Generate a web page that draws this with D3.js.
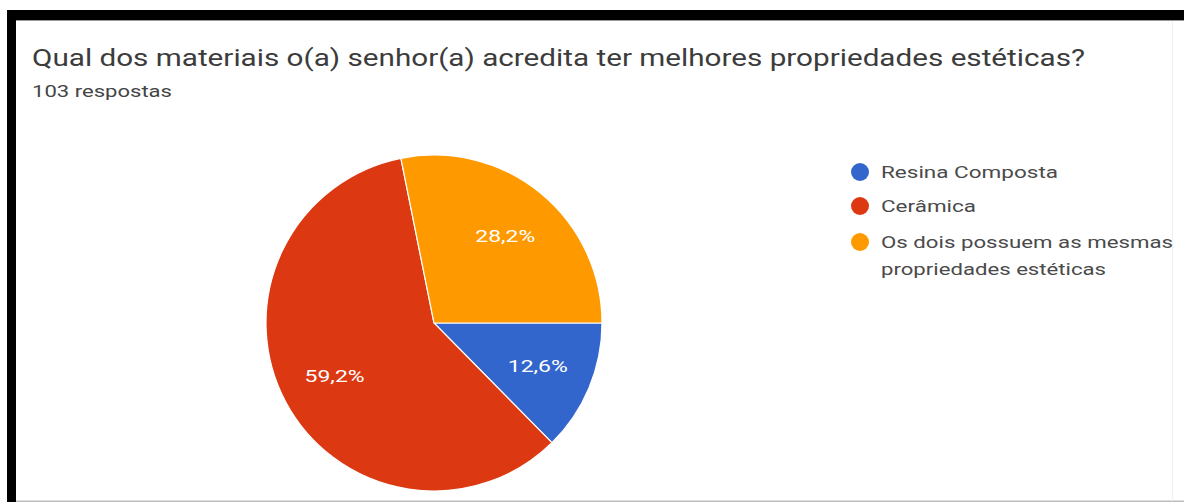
<!DOCTYPE html>
<html>
<head>
<meta charset="utf-8">
<script src="https://cdn.jsdelivr.net/npm/d3@7"></script>
<style>
  html, body { margin: 0; padding: 0; background: #fff; }
  svg { display: block; }
</style>
</head>
<body>
<script>
// Survey answers
const categories = ["Resina Composta", "Cerâmica", "Os dois possuem as mesmas propriedades estéticas"];
const legendLines = [["Resina Composta"], ["Cerâmica"], ["Os dois possuem as mesmas", "propriedades estéticas"]];
const responses = [13, 61, 29];
const colors = ["#3366cc", "#dc3912", "#ff9900"];
const titleText = "Qual dos materiais o(a) senhor(a) acredita ter melhores propriedades estéticas?";
const subtitleText = "103 respostas";

const W = 1184, H = 502;
const svg = d3.select("body").append("svg").attr("width", W).attr("height", H);
const FONT = "Roboto, sans-serif";

// card frame
svg.append("rect").attr("x", 0).attr("y", 0).attr("width", W).attr("height", H).attr("fill", "#fff");
svg.append("rect").attr("x", 7).attr("y", 10).attr("width", W - 7).attr("height", 10).attr("fill", "#000");
svg.append("rect").attr("x", 7).attr("y", 10).attr("width", 9).attr("height", H - 10).attr("fill", "#000");
svg.append("rect").attr("x", 16).attr("y", 20).attr("width", W - 16).attr("height", 1).attr("fill", "#9a9a9a");
svg.append("rect").attr("x", 16).attr("y", H - 1.5).attr("width", W - 16).attr("height", 1.5).attr("fill", "#bdbdbd");
svg.append("rect").attr("x", 1172).attr("y", 21).attr("width", 1).attr("height", H - 22).attr("fill", "#f0f0f0");

// header (text is set wide, so each line is fitted to its width)
svg.append("text").attr("x", 32).attr("y", 66)
  .attr("font-family", FONT).attr("font-size", 24)
  .attr("textLength", 1053).attr("lengthAdjust", "spacingAndGlyphs")
  .attr("fill", "#3c3c3c").text(titleText);
svg.append("text").attr("x", 32).attr("y", 97)
  .attr("font-family", FONT).attr("font-size", 17)
  .attr("textLength", 140).attr("lengthAdjust", "spacingAndGlyphs")
  .attr("fill", "#444").text(subtitleText);

// pie
const total = d3.sum(responses);
const cx = 434, cy = 323, r = 168;
const pie = d3.pie().sort(null).startAngle(Math.PI / 2).endAngle(Math.PI / 2 + 2 * Math.PI);
const arcs = pie(responses);
const arc = d3.arc().innerRadius(0).outerRadius(r);
const labelArc = d3.arc().innerRadius(r * 0.67).outerRadius(r * 0.67);

const g = svg.append("g").attr("transform", `translate(${cx},${cy})`);
g.selectAll("path").data(arcs).join("path")
  .attr("d", arc)
  .attr("fill", (d, i) => colors[i])
  .attr("stroke", "#fff").attr("stroke-width", 1.2);

const fmt = v => (v / total * 100).toFixed(1).replace(".", ",") + "%";
g.selectAll("text").data(arcs).join("text")
  .attr("transform", d => `translate(${labelArc.centroid(d)})`)
  .attr("text-anchor", "middle").attr("dy", "0.35em")
  .attr("font-family", FONT).attr("font-size", 17)
  .attr("textLength", 60).attr("lengthAdjust", "spacingAndGlyphs")
  .attr("fill", "#fff")
  .text(d => fmt(d.value));

// legend
const lineWidths = [[177], [95], [292, 225]];
const lg = svg.append("g").attr("transform", "translate(860,0)");
const rowY = [172, 206, 242];
legendLines.forEach((lines, i) => {
  lg.append("circle").attr("cx", 0).attr("cy", rowY[i]).attr("r", 9).attr("fill", colors[i]);
  lines.forEach((ln, k) => {
    lg.append("text").attr("x", 21).attr("y", rowY[i] + k * 27).attr("dy", "0.35em")
      .attr("font-family", FONT).attr("font-size", 17)
      .attr("textLength", lineWidths[i][k]).attr("lengthAdjust", "spacingAndGlyphs")
      .attr("fill", "#4a4a4a").text(ln);
  });
});
</script>
</body>
</html>
